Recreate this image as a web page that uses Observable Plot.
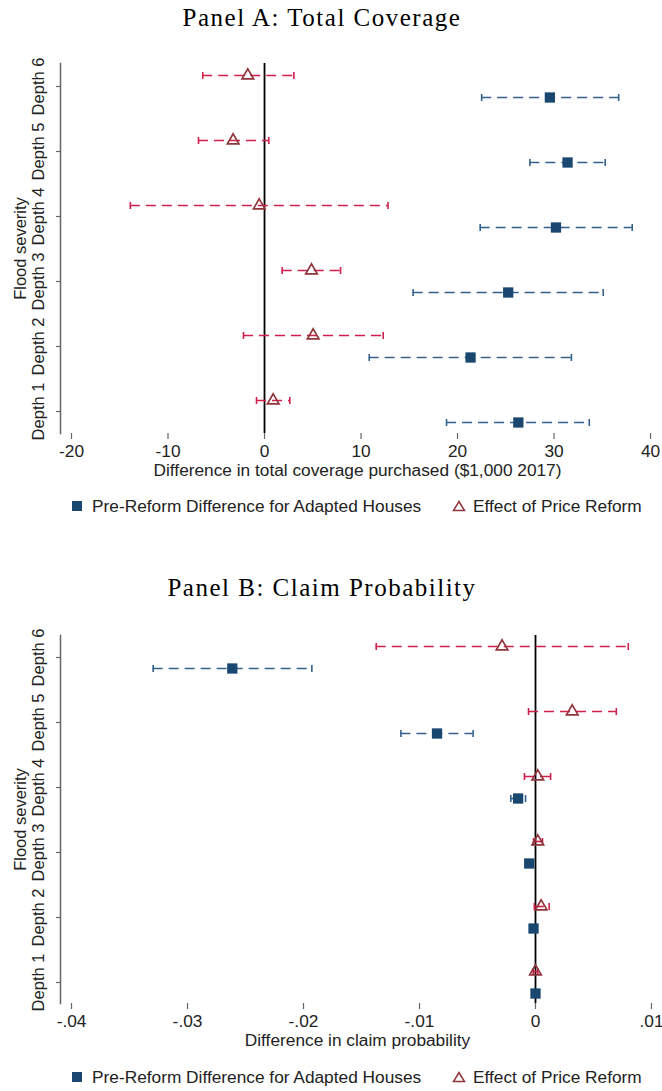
<!DOCTYPE html>
<html><head><meta charset="utf-8">
<script src="https://cdn.jsdelivr.net/npm/d3@7"></script>
<script src="https://cdn.jsdelivr.net/npm/@observablehq/plot@0.6"></script>
<style>
body{margin:0;background:#fff;width:662px;height:1091px;position:relative;overflow:hidden;font-family:"Liberation Sans",Arial,sans-serif;}
.title{position:absolute;left:-9px;width:662px;text-align:center;font-family:"Liberation Serif",serif;font-size:25px;letter-spacing:1.5px;line-height:25px;color:#000;}
.legend{position:absolute;left:0;width:662px;height:20px;font-size:17.3px;color:#222;}
.legend span{position:absolute;top:0;line-height:20px;white-space:nowrap;}
.legend svg{position:absolute;}
.panel{position:absolute;left:0;}
</style></head><body>
<div class="title" style="top:5px">Panel A: Total Coverage</div>
<div id="plotA" class="panel" style="top:40px"></div>
<div class="legend" style="top:496px">
  <svg style="left:72px;top:5px" width="10" height="10"><rect width="10" height="10" fill="#1a476f"/></svg>
  <span style="left:92px">Pre-Reform Difference for Adapted Houses</span>
  <svg style="left:452px;top:3px" width="14" height="14"><path d="M7,2.5 L12.5,11.5 L1.5,11.5Z" fill="none" stroke="#90353b" stroke-width="1.5"/></svg>
  <span style="left:473px">Effect of Price Reform</span>
</div>
<div class="title" style="top:575px">Panel B: Claim Probability</div>
<div id="plotB" class="panel" style="top:610px"></div>
<div class="legend" style="top:1067px">
  <svg style="left:72px;top:5px" width="10" height="10"><rect width="10" height="10" fill="#1a476f"/></svg>
  <span style="left:92px">Pre-Reform Difference for Adapted Houses</span>
  <svg style="left:452px;top:3px" width="14" height="14"><path d="M7,2.5 L12.5,11.5 L1.5,11.5Z" fill="none" stroke="#90353b" stroke-width="1.5"/></svg>
  <span style="left:473px">Effect of Price Reform</span>
</div>
<script>
// ---- data ----
const depths = ["Depth 1", "Depth 2", "Depth 3", "Depth 4", "Depth 5", "Depth 6"];

// Panel A: total coverage ($1,000 2017)
const coverPre   = [26.3, 21.35, 25.25, 30.2, 31.4, 29.57];
const coverPreLo = [18.86, 10.85, 15.4, 22.35, 27.5, 22.5];
const coverPreHi = [33.65, 31.8, 35.1, 38.1, 35.3, 36.7];
const coverRef   = [0.9, 5.04, 4.87, -0.55, -3.25, -1.73];
const coverRefLo = [-0.83, -2.18, 1.83, -13.9, -6.84, -6.4];
const coverRefHi = [2.62, 12.3, 7.88, 12.8, 0.45, 3.04];
const coverTicks  = [-20, -10, 0, 10, 20, 30, 40];
const coverLabels = ["-20", "-10", "0", "10", "20", "30", "40"];

// Panel B: claim probability
const claimPre   = [0.0, -0.00017, -0.00054, -0.0015, -0.00849, -0.02614];
const claimPreLo = [-0.0001, -0.0003, -0.0008, -0.00213, -0.0116, -0.03296];
const claimPreHi = [0.0001, -0.00005, -0.0003, -0.00086, -0.00538, -0.01928];
const claimRef   = [0.0, 0.00049, 0.0002, 0.0002, 0.00317, -0.00288];
const claimRefLo = [-0.0002, -0.0001, -0.00017, -0.00095, -0.0006, -0.01373];
const claimRefHi = [0.0002, 0.00118, 0.0006, 0.0013, 0.00697, 0.008];
const claimTicks  = [-0.04, -0.03, -0.02, -0.01, 0, 0.01];
const claimLabels = ["-.04", "-.03", "-.02", "-.01", "0", ".01"];

const NAVY = "#1a476f", NAVY_CI = "#31618c", RED = "#90353b", RED_CI = "#cf1f4a";

// vertical-bar symbol used for the confidence-interval caps
const capSymbol = {draw(ctx, size) { const h = Math.sqrt(size / Math.PI); ctx.moveTo(0, -h); ctx.lineTo(0, h); }};

function rows(est, lo, hi) {
  return depths.map((d, i) => ({depth: d, est: est[i], lo: lo[i], hi: hi[i]}));
}

function ciMarks(data, dy, stroke) {
  return [
    Plot.ruleY(data, {y: "depth", x1: "lo", x2: "hi", dy, stroke, strokeWidth: 1.7, strokeDasharray: "10,6"}),
    Plot.dot(data, {y: "depth", x: "lo", dy, symbol: capSymbol, r: 3.5, fill: "none", stroke, strokeWidth: 1.6}),
    Plot.dot(data, {y: "depth", x: "hi", dy, symbol: capSymbol, r: 3.5, fill: "none", stroke, strokeWidth: 1.6})
  ];
}

function panel({pre, ref, xdom, ticks, labels, xlabel, marginTop}) {
  const lab = new Map(ticks.map((t, i) => [t, labels[i]]));
  return Plot.plot({
    width: 662, height: 450,
    marginLeft: 60, marginRight: 8, marginTop, marginBottom: 57,
    style: {fontFamily: "Liberation Sans, Arial, sans-serif", fontSize: "17.3px", color: "#222", background: "white"},
    x: {domain: xdom, range: [60, 654]},
    y: {type: "point", domain: depths.slice().reverse(), padding: 0.33},
    marks: [
      Plot.frame({anchor: "left", stroke: "#666", strokeWidth: 1.5}),
      Plot.axisX({ticks, tickFormat: d => lab.get(d), tickSize: 6, tickPadding: 5, stroke: "#666", strokeWidth: 1.2, fontSize: 17.3,
                  label: xlabel, labelAnchor: "center", labelArrow: "none", labelOffset: 42}),
      Plot.axisY({tickSize: 4, tickRotate: -90, tickPadding: 13, stroke: "#666", strokeWidth: 1.2, fontSize: 16.5,
                  label: "Flood severity", labelAnchor: "center", labelArrow: "none", labelOffset: 46}),
      Plot.ruleX([0], {stroke: "black", strokeWidth: 1.8}),
      ...ciMarks(pre, 11, NAVY_CI),
      ...ciMarks(ref, -11, RED_CI),
      Plot.dot(pre, {y: "depth", x: "est", dy: 11, symbol: "square", r: 5.8, fill: NAVY, stroke: "none"}),
      Plot.dot(ref, {y: "depth", x: "est", dy: -11, symbol: "triangle", r: 4.3, fill: "none", stroke: RED, strokeWidth: 1.7})
    ]
  });
}

document.getElementById("plotA").append(panel({
  pre: rows(coverPre, coverPreLo, coverPreHi),
  ref: rows(coverRef, coverRefLo, coverRefHi),
  xdom: [-21.14, 40.41], ticks: coverTicks, labels: coverLabels,
  xlabel: "Difference in total coverage purchased ($1,000 2017)", marginTop: 23
}));
document.getElementById("plotB").append(panel({
  pre: rows(claimPre, claimPreLo, claimPreHi),
  ref: rows(claimRef, claimRefLo, claimRefHi),
  xdom: [-0.04095, 0.01026], ticks: claimTicks, labels: claimLabels,
  xlabel: "Difference in claim probability", marginTop: 25
}));
</script>
</body></html>
